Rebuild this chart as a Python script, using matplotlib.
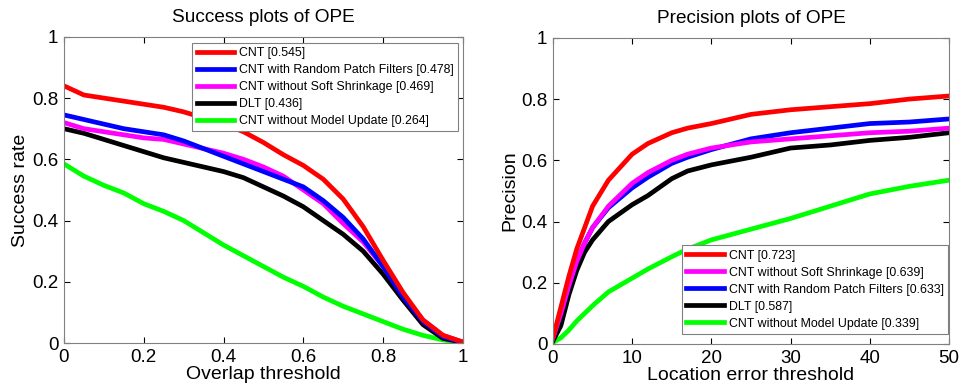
import matplotlib
matplotlib.use("Agg")
import matplotlib.pyplot as plt
from matplotlib.lines import Line2D

plt.rcParams['font.family'] = ['Liberation Sans', 'DejaVu Sans']

# success plot data
overlap = [0, 0.05, 0.1, 0.15, 0.2, 0.25, 0.3, 0.35, 0.4, 0.45, 0.5,
           0.55, 0.6, 0.65, 0.7, 0.75, 0.8, 0.85, 0.9, 0.95, 1.0]
succ_cnt = [0.84, 0.81, 0.80, 0.79, 0.78, 0.77, 0.755, 0.735, 0.715, 0.69, 0.655,
            0.615, 0.58, 0.535, 0.47, 0.38, 0.27, 0.165, 0.075, 0.025, 0.003]
succ_rand = [0.745, 0.73, 0.715, 0.70, 0.69, 0.68, 0.66, 0.635, 0.61, 0.585, 0.56,
             0.535, 0.51, 0.465, 0.41, 0.34, 0.25, 0.15, 0.07, 0.02, 0.002]
succ_soft = [0.72, 0.70, 0.69, 0.68, 0.67, 0.665, 0.65, 0.635, 0.62, 0.60, 0.575,
             0.545, 0.50, 0.455, 0.39, 0.33, 0.25, 0.155, 0.075, 0.025, 0.003]
succ_dlt = [0.70, 0.685, 0.665, 0.645, 0.625, 0.605, 0.59, 0.575, 0.56, 0.54, 0.51,
            0.48, 0.445, 0.40, 0.355, 0.30, 0.225, 0.14, 0.06, 0.015, 0.002]
succ_noupd = [0.585, 0.545, 0.515, 0.49, 0.455, 0.43, 0.40, 0.36, 0.32, 0.285, 0.25,
              0.215, 0.185, 0.15, 0.12, 0.095, 0.07, 0.045, 0.025, 0.01, 0.002]

# precision plot data
loc_err = [0, 1, 2, 3, 4, 5, 7, 10, 12, 15, 17, 20, 25, 30, 35, 40, 45, 50]
prec_cnt = [0.02, 0.12, 0.22, 0.31, 0.38, 0.45, 0.535, 0.62, 0.655, 0.69, 0.705,
            0.72, 0.75, 0.765, 0.775, 0.785, 0.80, 0.81]
prec_soft = [0.02, 0.10, 0.19, 0.27, 0.33, 0.38, 0.45, 0.525, 0.56, 0.60, 0.62,
             0.64, 0.66, 0.67, 0.68, 0.69, 0.695, 0.705]
prec_rand = [0.02, 0.10, 0.19, 0.27, 0.33, 0.38, 0.445, 0.51, 0.545, 0.59, 0.61,
             0.635, 0.67, 0.69, 0.705, 0.72, 0.725, 0.735]
prec_dlt = [0.01, 0.06, 0.16, 0.24, 0.30, 0.34, 0.40, 0.455, 0.485, 0.54, 0.565,
            0.585, 0.61, 0.64, 0.65, 0.665, 0.675, 0.69]
prec_noupd = [0.005, 0.02, 0.045, 0.075, 0.10, 0.125, 0.17, 0.215, 0.245, 0.285, 0.31,
              0.34, 0.375, 0.41, 0.45, 0.49, 0.515, 0.535]

succ_labels = ["CNT [0.545]", "CNT with Random Patch Filters [0.478]",
               "CNT without Soft Shrinkage [0.469]", "DLT [0.436]",
               "CNT without Model Update [0.264]"]
prec_labels = ["CNT [0.723]", "CNT without Soft Shrinkage [0.639]",
               "CNT with Random Patch Filters [0.633]", "DLT [0.587]",
               "CNT without Model Update [0.339]"]

RED, BLUE, MAG, BLK, GRN = "#ff0000", "#0000ff", "#ff00ff", "#000000", "#00ff00"

fig = plt.figure(figsize=(9.59, 3.9), dpi=100)
ax1 = fig.add_axes([0.0667, 0.1205, 0.416, 0.785])
ax2 = fig.add_axes([0.5766, 0.118, 0.413, 0.785])

lw = 3.4
# draw lower curves first, top curves on top
for y, c in [(succ_noupd, GRN), (succ_dlt, BLK), (succ_soft, MAG), (succ_rand, BLUE), (succ_cnt, RED)]:
    ax1.plot(overlap, y, color=c, lw=lw)
for y, c in [(prec_noupd, GRN), (prec_dlt, BLK), (prec_rand, BLUE), (prec_soft, MAG), (prec_cnt, RED)]:
    ax2.plot(loc_err, y, color=c, lw=lw)

h1 = [Line2D([], [], color=c, lw=lw) for c in [RED, BLUE, MAG, BLK, GRN]]
h2 = [Line2D([], [], color=c, lw=lw) for c in [RED, MAG, BLUE, BLK, GRN]]

leg_kw = dict(fontsize=8.9, handlelength=3.0, handletextpad=0.4, labelspacing=0.4,
              borderpad=0.35, borderaxespad=0, fancybox=False, framealpha=1,
              edgecolor="#808080")
leg1 = ax1.legend(h1, succ_labels, loc="upper right", bbox_to_anchor=(0.987, 0.98), **leg_kw)
leg2 = ax2.legend(h2, prec_labels, loc="lower right", bbox_to_anchor=(0.997, 0.033), **leg_kw)
for leg in (leg1, leg2):
    leg.get_frame().set_linewidth(0.8)

ticks01 = [0, 0.2, 0.4, 0.6, 0.8, 1]
tlabels01 = ["0", "0.2", "0.4", "0.6", "0.8", "1"]

ax1.set_xlim(0, 1)
ax1.set_ylim(0, 1)
ax1.set_xticks(ticks01)
ax1.set_xticklabels(tlabels01)
ax1.set_yticks(ticks01)
ax1.set_yticklabels(tlabels01)
ax1.set_title("Success plots of OPE", fontsize=13.7, pad=11)
ax1.set_xlabel("Overlap threshold", fontsize=14, labelpad=0)
ax1.set_ylabel("Success rate", fontsize=14, labelpad=2)

ax2.set_xlim(0, 50)
ax2.set_ylim(0, 1)
ax2.set_xticks([0, 10, 20, 30, 40, 50])
ax2.set_yticks(ticks01)
ax2.set_yticklabels(tlabels01)
ax2.set_title("Precision plots of OPE", fontsize=13.7, pad=11)
ax2.set_xlabel("Location error threshold", fontsize=14, labelpad=0)
ax2.set_ylabel("Precision", fontsize=14, labelpad=2)

for ax in (ax1, ax2):
    ax.tick_params(direction="in", top=True, right=True, labelsize=13.5, length=4, pad=4)
    for s in ax.spines.values():
        s.set_color("#808080")
        s.set_linewidth(0.8)

fig.savefig("out.png", dpi=100)
